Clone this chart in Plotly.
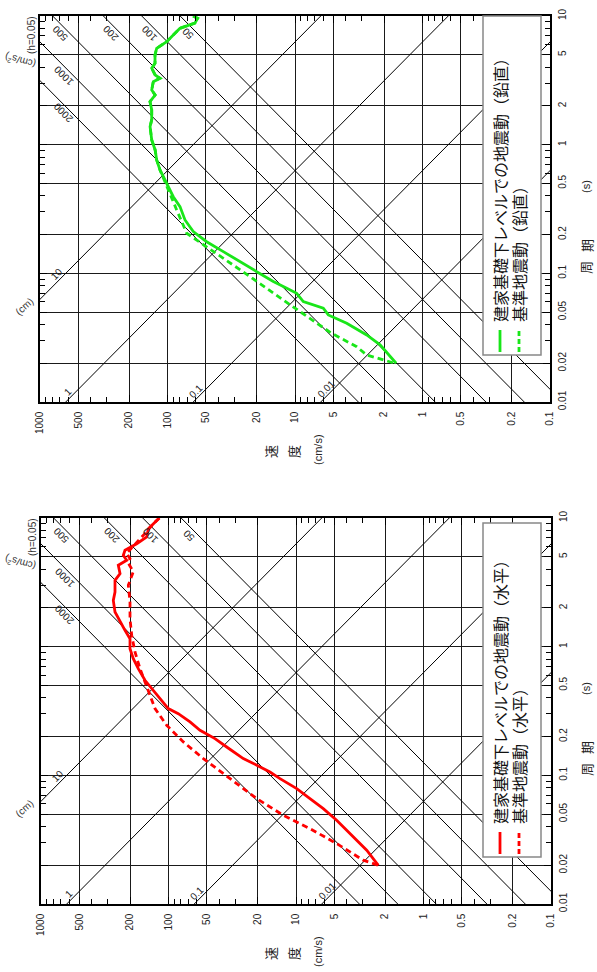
import numpy as np
import plotly.graph_objects as go

# ---------------- data ----------------
# vertical (green) - building foundation level motion
green_solid_T = [10, 9.6, 8.8, 8.02, 7.12, 6.31, 5.61, 4.98, 4.29, 3.93, 3.48, 3.28, 3.09, 2.66, 2.43, 2.16,
                 1.86, 1.56, 1.38, 1.09, 0.91, 0.76, 0.636, 0.501, 0.394, 0.33, 0.26, 0.211, 0.176, 0.1475,
                 0.123, 0.103, 0.0863, 0.0766, 0.070, 0.0603, 0.0536, 0.0475, 0.0409, 0.0332, 0.0278, 0.02]
green_solid_V = [63, 58, 61, 79.8, 90.1, 101.4, 121.6, 125.3, 125.3, 133.0, 125, 114.5, 129.2, 133, 125, 137.2,
                 133, 133, 137, 133, 125, 121.6, 114.5, 101.4, 90.1, 79.8, 72.9, 62.8, 49.3, 36.5,
                 27.0, 19.95, 14.8, 11.6, 9.70, 8.61, 6.00, 5.48, 3.93, 2.74, 2.15, 1.61]
# vertical (green) - standard ground motion
green_dash_T = [10, 9.6, 8.8, 8.02, 7.12, 6.31, 5.61, 4.98, 4.29, 3.93, 3.48, 3.28, 3.09, 2.66, 2.43, 2.16,
                1.86, 1.56, 1.38, 1.09, 0.91, 0.76, 0.636, 0.472, 0.311, 0.205, 0.161, 0.120, 0.0942,
                0.0569, 0.0344, 0.0269, 0.0232, 0.02]
green_dash_V = [63, 58, 61, 79.8, 90.1, 101.4, 121.6, 125.3, 125.3, 133.0, 125, 114.5, 129.2, 133, 125, 137.2,
                133, 133, 137, 133, 125, 121.6, 114.5, 101.4, 84.7, 70.7, 49.3, 32.4, 22.5,
                10.9, 5.22, 3.28, 2.74, 1.65]

# horizontal (red) - building foundation level motion
red_solid_T = [10, 9.03, 8.26, 7.12, 6.31, 5.61, 5.13, 4.69, 4.29, 3.69, 3.28, 2.66, 2.29, 1.86, 1.56, 1.34,
               1.153, 0.965, 0.807, 0.675, 0.548, 0.472, 0.394, 0.330, 0.3015, 0.260, 0.224, 0.193, 0.166,
               0.135, 0.120, 0.106, 0.0943, 0.0788, 0.0659, 0.0551, 0.0448, 0.0332, 0.0262, 0.02]
red_solid_V = [118, 131.6, 143.9, 148.2, 177.5, 219.4, 226.2, 212.8, 247.6, 239.9, 262.8, 262.8, 271, 262.8,
               239.9, 219.4, 200.4, 200.4, 188.8, 172.6, 152.9, 135.5, 116.6, 100.4, 83.8, 67.8, 56.6, 43.2,
               34.96, 25.9, 20.3, 16.0, 13.35, 9.87, 7.77, 6.11, 4.80, 3.55, 2.79, 2.26]
# horizontal (red) - standard ground motion
red_dash_T = [10, 9.03, 7.83, 6.75, 5.32, 4.83, 4.45, 3.83, 3.00, 2.23, 1.65, 1.227, 0.910, 0.675, 0.532,
              0.431, 0.330, 0.245, 0.1818, 0.135, 0.0943, 0.0659, 0.0490, 0.0385, 0.0295, 0.0219, 0.02]
red_dash_V = [118, 131.6, 148.2, 170, 212.8, 200.4, 206.6, 188.8, 206.6, 200.4, 200.4, 194.4, 183.2, 167.3,
              152.9, 139.7, 127.6, 103.3, 76.5, 53.3, 33.0, 20.3, 12.6, 7.77, 4.80, 2.97, 2.26]

disp_levels = [0.01, 0.1, 1, 10]                 # cm
acc_levels = [50, 100, 200, 500, 1000, 2000]      # cm/s^2
vel_ticks = [1000, 500, 200, 100, 50, 20, 10, 5, 2, 1, 0.5, 0.2, 0.1]
vel_tick_text = ["1000", "500", "200", "100", "50", "20", "10", "5", "2", "1", "0.5", "0.2", "0.1"]
per_ticks = [10, 5, 2, 1, 0.5, 0.2, 0.1, 0.05, 0.02, 0.01]
per_tick_text = ["10", "5", "2", "1", "0.5", "0.2", "0.1", "0.05", "0.02", "0.01"]

legend_v = ["建家基礎下レベルでの地震動（鉛直）", "基準地震動（鉛直）"]
legend_h = ["建家基礎下レベルでの地震動（水平）", "基準地震動（水平）"]

GREEN = "#19e619"
RED = "#ff0000"
W, H = 597, 972
TICKFONT = dict(family="Liberation Sans, Arial", size=10, color="#222")
JP = "Noto Sans CJK JP"

# panels in pixels: (left, right, top, bottom)
panels = [(40, 550, 16, 402), (41, 551, 518, 904)]

fig = go.Figure()

minor_vals = []
for dec in [0.01, 0.1, 1, 10, 100, 1000]:
    for m in [3, 4, 6, 7, 8, 9]:
        minor_vals.append(dec * m)

TT = np.logspace(-3, 2, 3)
twopi = 2 * np.pi

for i, (L, R, Tp, B) in enumerate(panels):
    xa = "x" if i == 0 else "x2"
    ya = "y" if i == 0 else "y2"
    # tripartite guide lines
    for D in disp_levels:
        fig.add_trace(go.Scatter(x=twopi * D / TT, y=TT, mode="lines", xaxis=xa, yaxis=ya,
                                 line=dict(color="#000", width=1), showlegend=False, hoverinfo="skip"))
    for A in acc_levels:
        fig.add_trace(go.Scatter(x=A * TT / twopi, y=TT, mode="lines", xaxis=xa, yaxis=ya,
                                 line=dict(color="#000", width=1), showlegend=False, hoverinfo="skip"))
    if i == 0:
        curves = [(green_dash_T, green_dash_V, GREEN, "6px,4px"), (green_solid_T, green_solid_V, GREEN, "solid")]
    else:
        curves = [(red_dash_T, red_dash_V, RED, "6px,4px"), (red_solid_T, red_solid_V, RED, "solid")]
    for T, V, c, d in curves:
        fig.add_trace(go.Scatter(x=V, y=T, mode="lines", xaxis=xa, yaxis=ya,
                                 line=dict(color=c, width=2.8, dash=d), showlegend=False))

    sfx = "" if i == 0 else "2"
    axcommon = dict(type="log", showline=True, linecolor="black", linewidth=1.5, mirror="allticks",
                    ticks="inside", ticklen=7, tickcolor="black", showgrid=True, gridcolor="#1a1a1a",
                    gridwidth=1, zeroline=False, tickfont=TICKFONT, tickangle=-90, automargin=False,
                    minor=dict(ticks="inside", ticklen=5, tickcolor="black", tickvals=minor_vals, showgrid=False))
    fig.update_layout(**{
        "xaxis" + sfx: dict(axcommon, domain=[L / W, R / W], range=[3, -1], tickvals=vel_ticks,
                            ticktext=vel_tick_text, anchor="y" + sfx, side="bottom", ticklabelstandoff=4),
        "yaxis" + sfx: dict(axcommon, domain=[1 - B / H, 1 - Tp / H], range=[-2, 1], tickvals=per_ticks,
                            ticktext=per_tick_text, anchor="x" + sfx, side="right", ticklabelstandoff=2),
    })

annotations = []
shapes = []


def px(xp, yp):
    return xp / W, 1 - yp / H


def paper_text(xx, yy, txt, ang, fam, sz, color="#222"):
    x0, y0 = px(xx, yy)
    annotations.append(dict(x=x0, y=y0, xref="paper", yref="paper", text=txt, showarrow=False,
                            xanchor="center", yanchor="middle", textangle=ang,
                            font=dict(family=fam, size=sz, color=color)))


for i, (L, R, Tp, B) in enumerate(panels):
    xa = "x" if i == 0 else "x2"
    ya = "y" if i == 0 else "y2"
    oy = Tp - 16
    # acceleration labels
    acc_label_T = {50: 7.38, 100: 7.38, 200: 7.38, 500: 7.38, 1000: 3.48, 2000: 1.76}
    for A in acc_levels:
        T = acc_label_T[A]
        V = A * T / twopi
        annotations.append(dict(x=np.log10(V), y=np.log10(T), xref=xa, yref=ya, text=str(A), showarrow=False,
                                xanchor="center", yanchor="middle",
                                textangle=-135, xshift=-9, font=dict(family="Liberation Sans", size=10, color="#222")))
    disp_label_T = {1: 0.01205, 0.1: 0.01205, 0.01: 0.0128, 10: 0.0989}
    for D in disp_levels:
        T = disp_label_T[D]
        V = twopi * D / T
        annotations.append(dict(x=np.log10(V), y=np.log10(T), xref=xa, yref=ya, text=str(D), showarrow=False,
                                xanchor="center", yanchor="middle",
                                textangle=-45, xshift=-8, font=dict(family="Liberation Sans", size=10, color="#222")))
    # outer unit labels
    paper_text(32, 35 + oy, "(h=0.05)", -90, "Liberation Sans", 10, "#333")
    paper_text(20, 61 + oy, "(cm/s<sup>2</sup>)", -165, "Liberation Sans", 10, "#333")
    paper_text(24, 306 + oy, "(cm)", -42, "Liberation Sans", 10, "#333")
    # velocity axis title
    paper_text(270, 452 + oy, "速", -90, JP, 13)
    paper_text(293, 452 + oy, "度", -90, JP, 13)
    paper_text(318, 450 + oy, "(cm/s)", -90, "Liberation Sans", 11)
    # period axis title
    paper_text(586, 268 + oy, "周", -90, JP, 13)
    paper_text(586, 246 + oy, "期", -90, JP, 13)
    paper_text(586, 187 + oy, "(s)", -90, "Liberation Sans", 11)
    # legend box
    top = 16 if i == 0 else 523
    bot = 355 if i == 0 else 857
    x0, y0 = px(483, bot)
    x1, y1 = px(541, top)
    shapes.append(dict(type="rect", xref="paper", yref="paper", x0=x0, y0=y0, x1=x1, y1=y1,
                       fillcolor="white", line=dict(color="#888", width=1.5), layer="above"))
    col = GREEN if i == 0 else RED
    texts = legend_v if i == 0 else legend_h
    for k, (xx, dash) in enumerate([(500, "solid"), (519, "5px,3px")]):
        a0, b0 = px(xx, bot - 3)
        a1, b1 = px(xx, bot - 25)
        shapes.append(dict(type="line", xref="paper", yref="paper", x0=a0, y0=b0, x1=a1, y1=b1,
                           line=dict(color=col, width=2.8, dash=dash), layer="above"))
        tx, ty = px(xx, bot - 31)
        annotations.append(dict(x=tx, y=ty, xref="paper", yref="paper", text=texts[k], showarrow=False,
                                textangle=-90, xanchor="center", yanchor="bottom",
                                font=dict(family=JP, size=16, color="#111")))

fig.update_layout(width=W, height=H, margin=dict(l=0, r=0, t=0, b=0), plot_bgcolor="white",
                  paper_bgcolor="white", showlegend=False, annotations=annotations, shapes=shapes)

fig.write_html("out.html", config={"displayModeBar": False},
               post_script="document.body.style.margin='0px';document.body.style.overflow='hidden';")
